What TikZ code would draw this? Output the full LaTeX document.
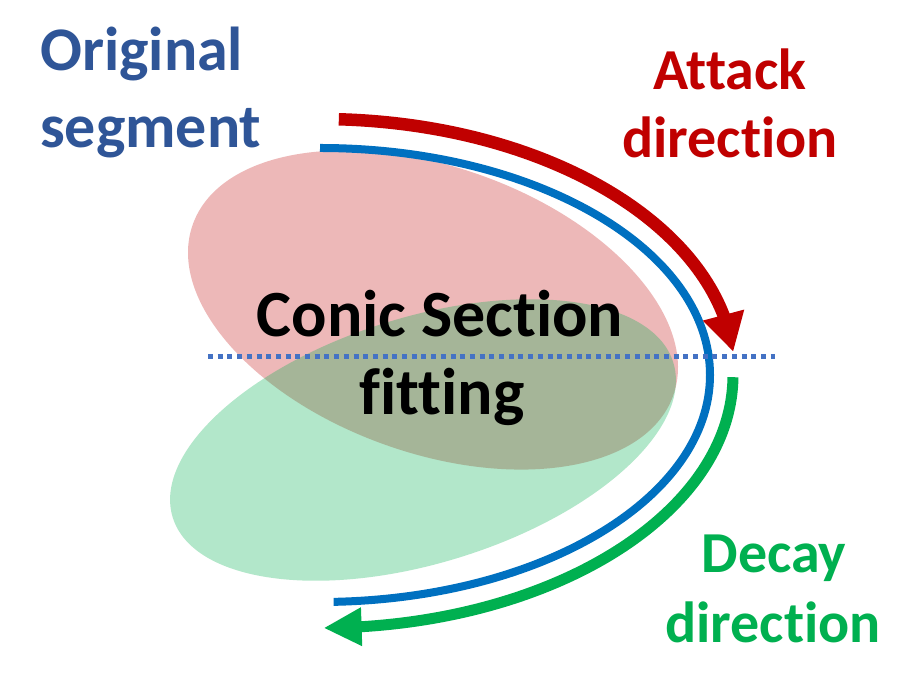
\documentclass[tikz,border=0pt]{standalone}
\usepackage{fontspec}
\setmainfont[RawFeature={-liga;-dlig;-clig}]{Carlito}
\usetikzlibrary{arrows.meta,bending}
\definecolor{segblue}{HTML}{2F5597}
\definecolor{atkred}{HTML}{C00000}
\definecolor{decgreen}{HTML}{00B050}
\definecolor{curveblue}{HTML}{0070C0}
\definecolor{dotblue}{HTML}{4472C4}
\begin{document}
\begin{tikzpicture}[x=1pt,y=1pt,
  lbl/.style={inner sep=0pt, font=\fontsize{58}{70}\selectfont\bfseries},
  seglbl/.style={inner sep=0pt, font=\fontsize{62}{74}\selectfont\bfseries},
  bigtxt/.style={inner sep=0pt, font=\fontsize{66}{78}\selectfont\bfseries},
  blob/.style={fill opacity=0.28},
  dotline/.style={dotblue, line width=5pt, dash pattern=on 5pt off 4.7pt}]
\fill[white] (0,0) rectangle (915,695);
\useasboundingbox (0,0) rectangle (915,695);
% fitted conics
\fill[atkred, blob] (433,385) ellipse[x radius=255, y radius=143, rotate=-19.6];
\fill[decgreen, fill opacity=0.30] (423,255) ellipse[x radius=262, y radius=123, rotate=17.2];
% centre of the arcs
\coordinate (c) at (320,320);
% original segment
\draw[curveblue, line width=8pt] (c) ++(90:390 and 227) coordinate (bstart)
  arc[start angle=90, end angle=-88, x radius=390, y radius=227] coordinate (bend);
% attack direction arrow
\draw[atkred, line width=12.5pt, -{Triangle[length=38pt, width=40pt]}]
  (c) ++(87.4:415 and 256) coordinate (rstart)
  arc[start angle=87.4, end angle=5.2, x radius=415, y radius=256] coordinate (rtip);
% decay direction arrow
\draw[decgreen, line width=11pt, -{Triangle[length=38pt, width=36pt]}]
  (c) ++(-0.5:413 and 253) coordinate (gstart)
  arc[start angle=-0.5, end angle=-89.5, x radius=413, y radius=253] coordinate (gtip);
% axis
\coordinate (axl) at (208,338);
\coordinate (axr) at (775,338);
\draw[dotline] (axl) -- (axr);
% labels
\node[seglbl, segblue, anchor=base west] (orig1) at (40,624.5) {Original};
\node[seglbl, segblue, anchor=base west] (orig2) at (40,547) {segment};
\node[lbl, atkred, anchor=base] (atk1) at (730,605) {Attack};
\node[lbl, atkred, anchor=base] (atk2) at (730,537) {direction};
\node[lbl, decgreen, anchor=base] (dec1) at (774,122) {Decay};
\node[lbl, decgreen, anchor=base] (dec2) at (773,52) {direction};
\node[bigtxt, anchor=base] (conic1) at (440,358) {Conic Section};
\node[bigtxt, anchor=base] (conic2) at (442,280) {fitting};
\end{tikzpicture}
\end{document}
